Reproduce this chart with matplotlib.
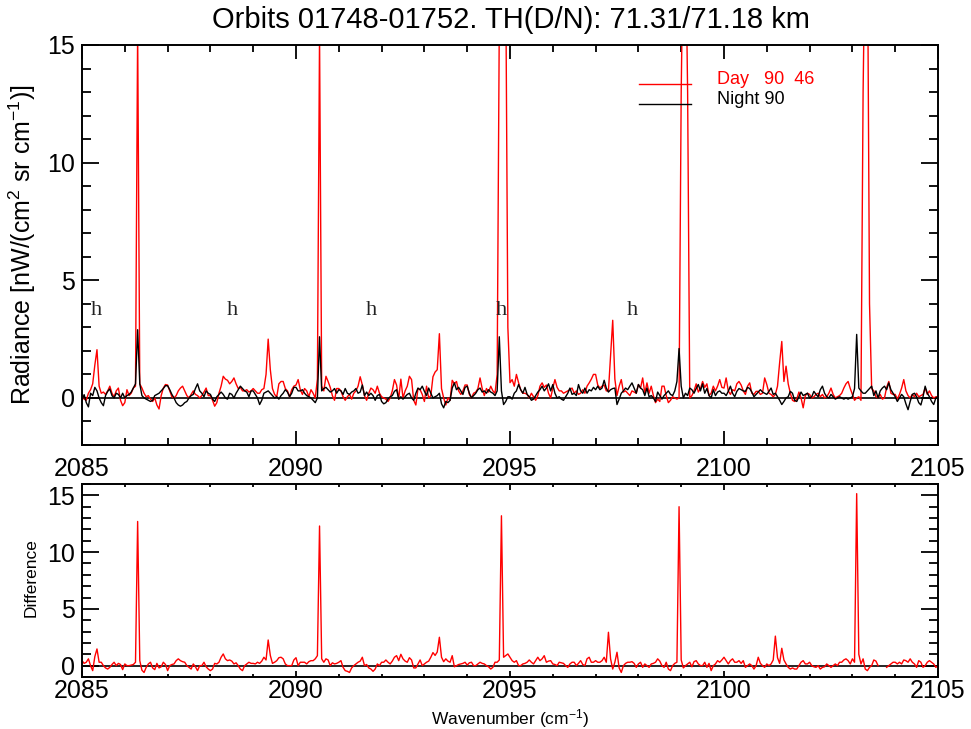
import numpy as np
import matplotlib

matplotlib.use("Agg")
from matplotlib import pyplot as plt
from matplotlib.ticker import MultipleLocator

plt.rcParams["font.family"] = ["Liberation Sans", "DejaVu Sans"]
plt.rcParams["mathtext.fontset"] = "custom"
plt.rcParams["mathtext.rm"] = "Liberation Sans"
plt.rcParams["mathtext.it"] = "Liberation Sans:italic"
plt.rcParams["mathtext.default"] = "regular"

# spectral grid (cm-1)
wn_start = 2085.0
wn_step = 0.05

# day radiance, one row per cm-1
day_radiance = [
    0.1, -0.05, -0.1, 0.2, 0.35, 0.6, 1.4, 2.05, 0.5, 0.2, 0.25, 0.15, 0.3, 0.5, 0.2, 0.05, 0.3, 0.42, -0.1, -0.33,  # 2085
    -0.2, 0.35, 0.1, 0.2, 0.42, 0.5, 15.6, 0.6, 0.42, 0.2, 0.05, 0.1, -0.05, -0.15, 0.0, -0.3, -0.47, 0.1, 0.42, 0.57,  # 2086
    0.55, 0.3, 0.05, 0.0, 0.1, 0.3, 0.42, 0.5, 0.3, 0.1, 0.0, 0.15, 0.3, 0.15, 0.1, 0.0, 0.1, 0.25, 0.42, 0.1,  # 2087
    0.1, -0.1, -0.35, -0.2, 0.2, 0.5, 0.92, 0.8, 0.75, 0.6, 0.7, 0.85, 0.6, 0.4, 0.45, 0.3, 0.3, 0.35, 0.25, 0.3,  # 2088
    0.4, 0.3, 0.2, 0.2, 0.35, 0.4, 1.0, 2.5, 1.2, 0.4, 0.15, 0.05, 0.6, 0.7, 0.7, 0.4, 0.3, 0.05, 0.35, 0.5,  # 2089
    0.55, 0.78, 0.35, 0.15, 0.4, 0.3, 0.05, 0.35, 0.2, 0.0, 0.8, 15.4, 0.5, 0.3, 0.92, 0.7, 0.45, 0.1, -0.1, 0.4,  # 2090
    0.4, 0.3, 0.05, -0.1, 0.05, 0.15, -0.05, 0.2, 0.3, 0.5, 0.9, 0.55, 0.1, -0.1, 0.2, 0.42, 0.35, 0.2, 0.5, 0.2,  # 2091
    0.05, 0.0, -0.05, -0.15, 0.0, 0.3, 0.78, 0.55, -0.05, 0.8, 0.0, 0.3, 0.5, 0.92, 0.78, -0.1, -0.3, 0.4, 0.35, 0.15,  # 2092
    -0.15, 0.5, 0.0, 0.1, 0.9, 1.1, 1.2, 2.73, 0.4, 0.0, -0.3, 0.0, -0.1, 0.75, 0.6, 0.7, 0.3, 0.15, 0.3, 0.55,  # 2093
    0.55, 0.15, 0.0, 0.2, 0.25, 0.4, 0.85, 0.4, 0.1, 0.4, 0.25, 0.5, 0.3, 0.2, 1.0, 16.0, 18.0, 18.0, 18.0, 3.0,  # 2094
    0.65, 0.78, 0.5, 1.0, 0.65, 0.35, 0.2, 0.2, 0.15, 0.0, 0.2, 0.05, -0.1, 0.1, 0.5, 0.64, 0.45, 0.55, 0.2, 0.0,  # 2095
    0.42, 0.78, 0.45, 0.3, 0.3, 0.2, 0.25, 0.3, 0.35, 0.42, 0.2, 0.3, 0.15, 0.2, 0.35, 0.2, 0.5, 0.64, 0.8, 1.0,  # 2096
    1.0, 0.55, 0.42, 0.5, 0.55, 0.3, 0.3, 1.8, 3.3, 0.8, 0.1, 0.5, 0.78, 0.25, 0.3, 0.2, 0.1, 0.3, 0.25, 0.2,  # 2097
    0.57, 0.42, 0.85, 0.2, 0.64, 0.2, 0.5, 0.1, -0.2, -0.05, -0.15, 0.5, 0.5, 0.1, -0.2, -0.1, 0.05, 0.0, -0.05, 0.0,  # 2098
    13.0, 20.0, 20.0, 13.0, 0.0, 0.1, 0.3, 0.6, 0.25, 0.4, 0.7, 0.45, 0.6, 0.1, 0.2, 0.5, 0.3, 0.5, 0.78, 0.45,  # 2099
    0.42, 0.85, 0.3, 0.15, 0.35, 0.3, 0.6, 0.7, 0.55, 0.3, 0.15, 0.5, 0.64, 0.2, 0.15, 0.28, 0.28, 0.15, 0.2, 0.85,  # 2100
    0.57, 0.2, 0.15, 0.05, 0.15, 0.5, 1.5, 2.4, 0.7, 1.35, 0.6, 0.2, -0.1, -0.15, -0.05, 0.25, 0.0, -0.42, 0.1, 0.2,  # 2101
    0.15, 0.0, 0.05, 0.15, 0.2, 0.05, 0.15, 0.0, 0.05, 0.2, 0.42, 0.15, 0.0, 0.05, 0.1, 0.2, 0.42, 0.6, 0.7, 0.4,  # 2102
    0.15, -0.1, 0.0, 0.05, -0.1, 13.0, 20.0, 20.0, 4.0, 0.4, 0.3, 0.05, 0.0, 0.15, -0.05, 0.0, 0.45, 0.7, 0.2, 0.15,  # 2103
    0.15, -0.05, 0.15, 0.42, 0.78, 0.3, 0.1, 0.0, 0.15, 0.05, 0.2, 0.05, 0.1, 0.15, 0.42, 0.15, 0.3, 0.1, 0.0, 0.05,  # 2104
    0.05,
]

# night radiance
night_radiance = [
    -0.1, 0.14, -0.2, -0.38, 0.2, 0.1, 0.45, 0.3, 0.0, -0.2, -0.33, 0.1, 0.28, 0.38, 0.1, 0.0, 0.2, 0.15, 0.0, 0.2,  # 2085
    0.0, 0.1, 0.15, 0.25, 0.42, 0.6, 2.9, 0.6, 0.1, 0.0, -0.05, -0.1, -0.15, -0.1, 0.1, 0.15, 0.2, 0.3, 0.4, 0.52,  # 2086
    0.52, 0.35, 0.15, 0.0, -0.2, -0.3, -0.35, -0.3, -0.2, -0.15, 0.0, 0.1, 0.15, 0.4, 0.6, 0.3, 0.2, 0.05, 0.3, 0.2,  # 2087
    0.15, -0.05, -0.15, 0.05, 0.15, 0.25, 0.15, 0.0, -0.05, 0.2, 0.15, 0.0, 0.2, 0.35, 0.5, 0.4, 0.3, 0.25, 0.05, 0.3,  # 2088
    0.3, 0.15, 0.0, -0.28, -0.1, 0.2, 0.25, 0.3, 0.2, 0.1, 0.0, 0.05, -0.05, 0.1, 0.2, 0.35, 0.25, 0.05, 0.2, 0.45,  # 2089
    0.45, 0.3, 0.3, 0.35, 0.2, 0.1, 0.05, 0.0, -0.1, -0.2, 0.0, 2.6, 0.3, 0.4, 0.45, 0.35, 0.25, 0.3, 0.4, 0.2,  # 2090
    0.35, 0.3, 0.15, 0.4, 0.2, 0.15, 0.25, 0.3, 0.4, 0.2, 0.25, 0.55, 0.1, 0.25, 0.1, 0.2, 0.1, -0.1, 0.1, 0.15,  # 2091
    -0.15, -0.25, -0.2, -0.05, 0.05, 0.1, 0.28, 0.35, -0.05, 0.05, -0.05, 0.05, 0.15, 0.2, 0.0, -0.1, 0.2, 0.42, 0.35, 0.5,  # 2092
    0.28, 0.1, 0.42, 0.2, 0.0, 0.05, 0.1, 0.2, -0.25, -0.42, -0.15, -0.2, -0.1, 0.42, 0.64, 0.35, 0.45, 0.3, 0.15, 0.45,  # 2093
    0.5, 0.2, 0.0, 0.1, 0.2, 0.35, 0.42, 0.25, 0.3, 0.2, 0.35, 0.25, 0.2, 0.1, 0.3, 2.6, 0.3, -0.28, -0.15, 0.05,  # 2094
    0.05, -0.05, 0.2, 0.3, 0.57, 0.35, 0.2, 0.45, 0.15, 0.05, -0.1, -0.05, 0.1, 0.25, 0.35, 0.5, 0.3, 0.42, 0.6, 0.3,  # 2095
    0.57, 0.2, 0.0, 0.05, -0.05, -0.1, 0.05, 0.2, 0.42, 0.15, 0.2, 0.1, 0.57, 0.3, 0.2, 0.42, 0.2, 0.35, 0.3, 0.45,  # 2096
    0.35, 0.5, 0.35, 0.42, 0.75, 0.42, 0.25, 0.35, 0.4, 0.42, -0.28, -0.05, 0.2, 0.3, 0.42, 0.35, 0.5, 0.64, 0.42, 0.2,  # 2097
    0.57, 0.42, 0.35, 0.1, 0.42, 0.05, 0.1, 0.0, -0.15, 0.25, 0.1, -0.05, 0.1, 0.2, 0.3, 0.15, 0.1, 0.3, 0.7, 2.1,  # 2098
    0.5, 0.0, 0.2, 0.1, 0.42, 0.35, 0.2, 0.4, 0.57, 0.3, 0.6, 0.2, 0.4, 0.1, 0.0, 0.35, 0.1, 0.25, 0.3, 0.2,  # 2099
    0.2, 0.1, 0.28, 0.5, 0.2, 0.05, 0.28, 0.4, 0.35, 0.3, 0.28, 0.45, 0.4, 0.25, 0.05, 0.15, 0.25, 0.35, 0.25, 0.2,  # 2100
    0.15, 0.28, 0.42, 0.15, 0.2, 0.05, -0.1, -0.28, -0.15, 0.0, 0.05, 0.28, 0.2, -0.1, -0.15, 0.05, 0.25, 0.1, 0.15, 0.2,  # 2101
    0.0, 0.05, 0.28, 0.15, 0.05, 0.35, 0.5, 0.2, 0.05, 0.0, 0.15, 0.05, -0.05, 0.0, 0.05, 0.0, -0.05, 0.0, -0.05, 0.0,  # 2102
    0.05, 0.4, 2.7, 0.42, 0.3, 0.2, 0.2, 0.3, 0.4, 0.5, 0.1, 0.3, 0.0, 0.3, 0.42, 0.5, 0.35, 0.64, 0.35, 0.2,  # 2103
    0.05, -0.15, 0.0, 0.15, 0.05, -0.25, -0.5, -0.15, 0.15, 0.2, 0.05, -0.2, -0.3, 0.05, 0.5, 0.2, 0.05, -0.15, -0.28, 0.0,  # 2104
    0.05,
]

# day - night difference (nan = missing samples)
nan = float("nan")
difference = [
    0.44, 0.2, 0.3, 0.6, 0.0, -0.44, 0.8, 1.47, 0.3, 0.3, 0.0, -0.2, -0.3, -0.15, 0.1, 0.3, 0.0, 0.2, 0.1, -0.35,  # 2085
    0.15, 0.0, 0.0, 0.05, 0.1, 0.3, 12.7, 0.44, -0.4, -0.6, -0.15, 0.15, 0.3, -0.2, -0.35, 0.2, -0.2, -0.1, 0.3, 0.1,  # 2086
    -0.44, 0.0, 0.1, 0.15, 0.44, 0.6, 0.44, 0.35, 0.3, 0.0, -0.15, -0.3, 0.15, -0.1, -0.44, 0.0, 0.0, 0.3, -0.1, -0.3,  # 2087
    -0.44, -0.3, 0.2, 0.15, 0.3, 0.74, 1.03, 0.6, 0.44, 0.5, 0.4, 0.15, 0.25, 0.0, -0.3, -0.44, 0.0, 0.15, 0.3, 0.2,  # 2088
    0.2, 0.15, 0.3, 0.2, 0.4, 0.74, 0.5, 2.26, 0.9, 0.2, 0.3, 0.44, 0.7, 0.74, 0.6, 0.15, 0.0, 0.0, 0.0, 0.5,  # 2089
    0.7, 0.0, 0.3, 0.3, 0.3, 0.15, 0.35, 0.44, 0.44, 0.6, 0.88, 12.3, 0.6, 0.3, 0.6, 0.5, 0.0, 0.25, 0.15, 0.2,  # 2090
    0.3, 0.44, -0.15, -0.44, -0.5, -0.6, -0.2, 0.0, 0.15, 0.3, 0.4, 0.74, 0.0, 0.1, -0.2, -0.3, -0.5, -0.3, 0.15, 0.0,  # 2091
    0.3, 0.3, 0.5, 0.3, 0.15, 0.4, 0.74, 0.88, 0.44, 1.0, 0.6, 0.4, 0.3, 0.7, 0.5, -0.2, -0.2, 0.15, 0.5, 0.0,  # 2092
    0.15, 0.3, 0.4, 0.74, 1.15, 0.9, 1.2, 2.5, 0.74, 0.35, 0.6, 0.4, 0.3, 0.88, -0.1, 0.0, 0.1, 0.15, 0.2, 0.3,  # 2093
    0.05, 0.25, 0.3, 0.0, 0.0, 0.15, 0.3, 0.2, 0.15, 0.0, -0.1, -0.3, -0.15, 0.3, 0.3, 0.5, 13.2, 0.74, 0.88, 1.03,  # 2094
    0.74, 0.44, 0.3, 0.44, 0.0, 0.0, 0.15, 0.2, 0.3, 0.5, 0.3, 0.15, 0.44, 0.74, 0.44, 0.6, 0.88, 0.3, 0.4, 0.44,  # 2095
    0.15, 0.1, 0.0, 0.3, 0.25, 0.2, 0.0, -0.15, 0.15, 0.3, 0.3, 0.0, 0.2, 0.44, 0.1, 0.0, 0.6, 0.74, 0.3, 0.3,  # 2096
    0.44, 0.3, 0.3, 0.44, 0.74, 0.3, 2.94, 0.6, -0.3, 0.3, 1.18, -0.2, -0.6, 0.0, 0.2, 0.3, 0.3, 0.35, 0.2, -0.15,  # 2097
    0.15, 0.3, -0.15, 0.15, 0.0, -0.15, 0.15, 0.2, 0.3, 0.6, 0.4, 0.0, -0.15, 0.3, -0.3, -0.44, 0.0, 0.2, 0.3, 14.0,  # 2098
    0.5, -0.2, 0.0, 0.15, 0.3, -0.1, 0.35, 0.44, 0.15, 0.0, 0.0, 0.3, -0.15, 0.2, -0.44, 0.0, 0.15, 0.44, 0.3, 0.5,  # 2099
    0.74, 0.44, 0.15, 0.44, 0.6, 0.3, 0.3, 0.44, 0.2, 0.44, -0.15, 0.0, 0.15, 0.0, -0.3, 0.0, 0.74, 0.2, 0.0, -0.15,  # 2100
    0.15, 0.0, 0.15, 0.5, 2.6, 0.7, 0.2, 1.53, 0.5, 0.15, -0.15, -0.3, -0.2, -0.3, -0.3, 0.0, 0.3, 0.44, 0.15, 0.15,  # 2101
    0.3, 0.0, -0.1, -0.15, 0.0, -0.3, -0.15, -0.1, 0.15, 0.0, -0.15, 0.0, 0.15, 0.0, 0.3, 0.3, 0.5, 0.6, 0.44, 0.15,  # 2102
    0.6, 0.3, 15.15, 1.0, 0.15, 0.6, -0.3, -0.44, -0.15, 0.0, 0.5, 0.4, 0.0, nan, nan, nan, -0.15, 0.0, 0.15, 0.3,  # 2103
    0.3, 0.15, 0.3, 0.15, 0.5, 0.44, 0.3, 0.6, 0.3, 0.15, -0.15, 0.44, 0.3, -0.15, 0.0, 0.3, 0.44, 0.3, 0.15, -0.15,  # 2104
    0.0,
]

# positions of the "h" markers (cm-1) and their height
h_positions = [2085.33, 2088.52, 2091.76, 2094.80, 2097.86]
h_level = 3.54

title = "Orbits 01748-01752. TH(D/N): 71.31/71.18 km"
day_label = "Day   90  46"
night_label = "Night 90"


def style_axes(ax, xlen, ylen, xpad):
    ax.set_xlim(2085, 2105)
    ax.xaxis.set_major_locator(MultipleLocator(5))
    ax.xaxis.set_minor_locator(MultipleLocator(1))
    ax.yaxis.set_major_locator(MultipleLocator(5))
    ax.yaxis.set_minor_locator(MultipleLocator(1))
    ax.tick_params(axis="both", which="both", direction="in", top=True, right=True, width=1.3, labelsize=18)
    ax.tick_params(axis="x", which="major", length=xlen[0], pad=xpad)
    ax.tick_params(axis="x", which="minor", length=xlen[1])
    ax.tick_params(axis="y", which="major", length=ylen[0], pad=5)
    ax.tick_params(axis="y", which="minor", length=ylen[1])
    for sp in ax.spines.values():
        sp.set_linewidth(1.4)


def main():
    wn = wn_start + wn_step * np.arange(len(day_radiance))
    day = np.array(day_radiance)
    night = np.array(night_radiance)
    diff = np.array(difference)

    W, H = 971, 729
    fig = plt.figure(figsize=(W / 100, H / 100), dpi=100)
    ax1 = fig.add_axes([82 / W, 1 - 445 / H, 856 / W, 400 / H])
    ax2 = fig.add_axes([82 / W, 1 - 677 / H, 856 / W, 193 / H])

    # top panel: day and night spectra
    ax1.axhline(0, color="black", lw=1.2, zorder=1)
    ax1.plot(wn, day, color="red", lw=1.0, zorder=2)
    ax1.plot(wn, night, color="black", lw=1.0, zorder=3)
    ax1.set_ylim(-2, 15)
    style_axes(ax1, (10, 5), (12, 6.5), 9)

    for hx in h_positions:
        ax1.text(hx, h_level, "h", family=["Liberation Serif", "DejaVu Serif"], fontsize=16,
                 ha="center", va="baseline", color="#222222")

    # legend drawn by hand, IDL style
    ax1.plot([0.6507, 0.7114], [0.9018, 0.9018], transform=ax1.transAxes, color="red", lw=1.0)
    ax1.plot([0.6507, 0.7114], [0.8518, 0.8518], transform=ax1.transAxes, color="black", lw=1.0)
    ax1.text(0.7418, 0.9018, day_label, transform=ax1.transAxes, color="red", fontsize=13, va="baseline")
    ax1.text(0.7418, 0.8518, night_label, transform=ax1.transAxes, color="black", fontsize=13, va="baseline")

    # bottom panel: difference
    ax2.axhline(0, color="black", lw=1.2, zorder=1)
    ax2.plot(wn, diff, color="red", lw=1.0, zorder=2)
    ax2.set_ylim(-1, 16)
    style_axes(ax2, (4.5, 2.5), (12, 6.5), 1.5)

    fig.text(511 / W, 1 - 20 / H, title, ha="center", va="center", fontsize=21)
    fig.text(22 / W, 1 - 245 / H, r"Radiance [nW/(cm$^2$ sr cm$^{-1}$)]", rotation=90,
             ha="center", va="center", fontsize=18)
    fig.text(31 / W, 1 - 578 / H, "Difference", rotation=90, ha="center", va="center", fontsize=12.5)
    fig.text(510 / W, 1 - 724 / H, r"Wavenumber (cm$^{-1}$)", ha="center", va="baseline", fontsize=12.5)

    fig.savefig("out.png", dpi=100)


if __name__ == "__main__":
    main()
